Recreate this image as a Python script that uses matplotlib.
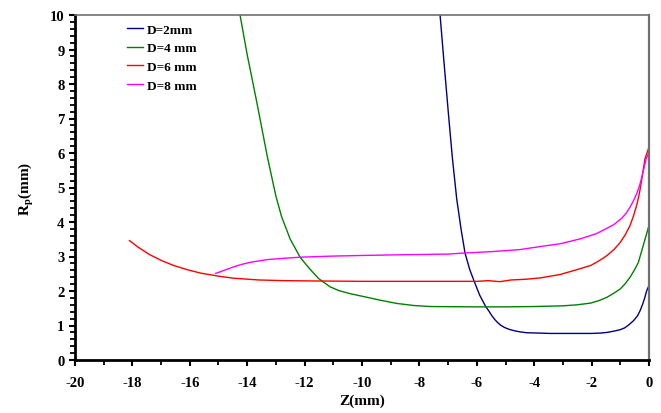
import matplotlib
matplotlib.use("Agg")
import matplotlib.pyplot as plt
from matplotlib.ticker import MultipleLocator

plt.rcParams['font.family'] = ['Liberation Serif', 'DejaVu Serif']
plt.rcParams['font.weight'] = 'bold'
plt.rcParams['axes.unicode_minus'] = False
plt.rcParams['mathtext.fontset'] = 'custom'
plt.rcParams['mathtext.rm'] = 'Liberation Serif:bold'
plt.rcParams['mathtext.it'] = 'Liberation Serif:bold'
plt.rcParams['mathtext.bf'] = 'Liberation Serif:bold'

labels = ['D=2mm', 'D=4 mm', 'D=6 mm', 'D=8 mm']
colors = ['#000080', '#008000', '#FF0000', '#FF00FF']

z_d2 = [-7.28, -7.15, -6.99, -6.85, -6.70, -6.55, -6.41, -6.25, -6.10, -5.90, -5.69, -5.58,
        -5.48, -5.38, -5.28, -5.17, -5.05, -4.94, -4.84, -4.65, -4.45, -4.26, -3.80, -3.45,
        -3.0, -2.5, -2.0, -1.70, -1.46, -1.20, -1.0, -0.85, -0.70, -0.54, -0.40, -0.31,
        -0.22, -0.16, -0.08, 0.0]
r_d2 = [10.0, 8.7, 7.15, 5.85, 4.67, 3.80, 3.10, 2.63, 2.30, 1.88, 1.55, 1.42,
        1.29, 1.18, 1.09, 1.01, 0.95, 0.91, 0.88, 0.84, 0.81, 0.79, 0.78, 0.77,
        0.77, 0.77, 0.77, 0.78, 0.80, 0.84, 0.88, 0.93, 1.02, 1.14, 1.28, 1.43,
        1.62, 1.77, 2.01, 2.16]

z_d4 = [-14.25, -14.0, -13.66, -13.3, -13.0, -12.8, -12.5, -12.15, -11.8, -11.51, -11.11,
        -10.8, -10.4, -9.95, -9.4, -8.79, -8.2, -7.63, -6.0, -5.0, -4.0, -3.0, -2.5, -2.03,
        -1.75, -1.46, -1.2, -1.0, -0.82, -0.66, -0.5, -0.37, -0.2, -0.1, 0.0]
r_d4 = [10.0, 8.85, 7.45, 5.9, 4.75, 4.15, 3.5, 2.97, 2.62, 2.36, 2.12,
        2.01, 1.92, 1.84, 1.74, 1.64, 1.58, 1.55, 1.54, 1.54, 1.55, 1.57, 1.60, 1.65,
        1.72, 1.82, 1.95, 2.06, 2.22, 2.40, 2.62, 2.83, 3.32, 3.61, 3.90]

z_d6 = [-18.1, -17.8, -17.39, -16.95, -16.56, -16.1, -15.63, -15.0, -14.47, -13.6, -12.73,
        -11.5, -10.0, -8.0, -6.0, -5.6, -5.2, -4.8, -4.3, -3.78, -3.09, -2.63, -2.03, -1.75,
        -1.46, -1.2, -1.0, -0.82, -0.66, -0.55, -0.43, -0.33, -0.25, -0.14, 0.0]
r_d6 = [3.46, 3.27, 3.05, 2.87, 2.74, 2.62, 2.52, 2.43, 2.37, 2.32, 2.30,
        2.29, 2.28, 2.28, 2.28, 2.30, 2.27, 2.32, 2.34, 2.38, 2.48, 2.59, 2.74, 2.87,
        3.03, 3.22, 3.41, 3.64, 3.90, 4.15, 4.48, 4.85, 5.25, 5.83, 6.17]

z_d8 = [-15.1, -14.8, -14.47, -14.2, -13.9, -13.31, -12.7, -12.15, -11.1, -10.0, -8.67,
        -7.0, -6.46, -5.5, -4.5, -3.78, -3.09, -2.4, -1.84, -1.46, -1.23, -0.95, -0.8,
        -0.66, -0.55, -0.43, -0.33, -0.25, -0.1, 0.0]
r_d8 = [2.51, 2.60, 2.70, 2.77, 2.83, 2.91, 2.95, 2.98, 3.01, 3.03, 3.05,
        3.07, 3.10, 3.14, 3.20, 3.29, 3.37, 3.51, 3.66, 3.82, 3.92, 4.11, 4.25,
        4.43, 4.60, 4.82, 5.05, 5.30, 5.83, 6.02]

series = [(z_d2, r_d2), (z_d4, r_d4), (z_d6, r_d6), (z_d8, r_d8)]

fig = plt.figure(figsize=(6.61, 4.14), dpi=100)
ax = fig.add_axes([75/661, 1-361/414, (649-75)/661, (361-16)/414])

for (z, r), lab, c in zip(series, labels, colors):
    ax.plot(z, r, color=c, lw=1.0, label=lab)

ax.set_xlim(-20, 0)
ax.set_ylim(0, 10)
ax.xaxis.set_major_locator(MultipleLocator(2))
ax.xaxis.set_minor_locator(MultipleLocator(1))
ax.yaxis.set_major_locator(MultipleLocator(1))
ax.yaxis.set_minor_locator(MultipleLocator(0.2))

ax.tick_params(axis='both', which='major', direction='out', length=4.5, width=1.5,
               labelsize=10.5)
ax.tick_params(axis='both', which='minor', direction='out', length=3.5, width=1.3)
ax.tick_params(axis='y', which='both', right=False, pad=3)
ax.tick_params(axis='x', which='both', top=False, pad=7)
for lab in ax.get_xticklabels() + ax.get_yticklabels():
    lab.set_fontweight('bold')

ax.spines['left'].set_linewidth(2.0)
ax.spines['bottom'].set_linewidth(2.0)
ax.spines['left'].set_color('black')
ax.spines['bottom'].set_color('black')
ax.spines['top'].set_color('#707070')
ax.spines['right'].set_color('#707070')
ax.spines['top'].set_linewidth(1.2)
ax.spines['right'].set_linewidth(1.6)

ax.set_xlabel('Z(mm)', fontsize=11, fontweight='bold', labelpad=3)
ax.set_ylabel(r'R$_{\mathrm{p}}$(mm)', fontsize=11, fontweight='bold', labelpad=10)

leg = ax.legend(loc='upper left', bbox_to_anchor=(0.090, 0.975), frameon=False,
                handlelength=1.25, handletextpad=0.3, labelspacing=0.48,
                borderaxespad=0, borderpad=0,
                prop={'weight': 'bold', 'size': 9.5})

fig.savefig('out.png', dpi=100)
